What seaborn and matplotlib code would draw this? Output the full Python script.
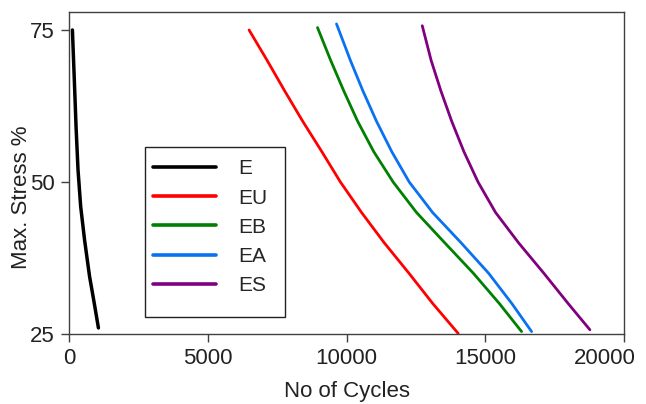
import matplotlib
matplotlib.use("Agg")
import matplotlib.pyplot as plt
import matplotlib.transforms as mtransforms
from matplotlib.patches import Rectangle
import seaborn as sns
import pandas as pd

# ---- data ----
series_names = ["E", "EU", "EB", "EA", "ES"]

E_cycles = [123, 190, 255, 325, 420, 560, 740, 920, 1060]
E_stress = [75.0, 67.0, 59.0, 52.0, 46.0, 40.5, 34.5, 29.8, 26.0]

EU_cycles = [6489, 7140, 7770, 8420, 9110, 9780, 10540, 11360, 12250, 13110, 14024]
EU_stress = [75.0, 70.0, 65.0, 60.0, 55.0, 50.0, 45.0, 40.0, 35.0, 30.0, 25.1]

EB_cycles = [8955, 9430, 9900, 10400, 10980, 11680, 12520, 13540, 14570, 15510, 16309]
EB_stress = [75.4, 70.0, 65.0, 60.0, 55.0, 50.0, 45.0, 40.0, 35.0, 30.0, 25.4]

EA_cycles = [9640, 10140, 10590, 11080, 11630, 12260, 13100, 14130, 15120, 15960, 16670]
EA_stress = [76.0, 70.0, 65.0, 60.0, 55.0, 50.0, 45.0, 40.0, 35.0, 30.0, 25.4]

ES_cycles = [12730, 13050, 13400, 13790, 14230, 14740, 15370, 16200, 17110, 17990, 18771]
ES_stress = [75.7, 70.0, 65.0, 60.0, 55.0, 50.0, 45.0, 40.0, 35.0, 30.0, 25.7]

x_ticks = [0, 5000, 10000, 15000, 20000]
y_ticks = [25, 50, 75]

colors = {"E": "#000000", "EU": "#ff0000", "EB": "#008000", "EA": "#0a72f0", "ES": "#800080"}
widths = {"E": 2.5, "EU": 2.0, "EB": 2.0, "EA": 2.0, "ES": 2.0}

data = {
    "E": (E_cycles, E_stress),
    "EU": (EU_cycles, EU_stress),
    "EB": (EB_cycles, EB_stress),
    "EA": (EA_cycles, EA_stress),
    "ES": (ES_cycles, ES_stress),
}

sns.set_theme(style="white")
plt.rcParams["font.family"] = ["Liberation Sans", "DejaVu Sans"]

W, H = 646, 404
AX_L, AX_R, AX_T, AX_B = 69, 624, 12, 334

fig = plt.figure(figsize=(W / 100, H / 100), dpi=100)
ax = fig.add_axes([AX_L / W, (H - AX_B) / H, (AX_R - AX_L) / W, (AX_B - AX_T) / H])

for name in series_names:
    cyc, st = data[name]
    df = pd.DataFrame({"cycles": cyc, "stress": st})
    sns.lineplot(data=df, x="cycles", y="stress", sort=False, estimator=None,
                 color=colors[name], linewidth=widths[name], label=name, ax=ax)

ax.set_xlim(0, 20000)
ax.set_ylim(25, 77.96)
ax.set_xticks(x_ticks)
ax.set_yticks(y_ticks)
ax.tick_params(axis="both", which="major", direction="out", length=6, width=1,
               color="#404040", labelsize=16, labelcolor="#222222", pad=4,
               bottom=True, left=True)
for sp in ax.spines.values():
    sp.set_visible(True)
    sp.set_color("#404040")
    sp.set_linewidth(1.0)

# last x tick label is pulled inwards in the reference
last_lab = ax.get_xticklabels()[-1]
last_lab.set_transform(last_lab.get_transform() +
                       mtransforms.ScaledTranslation(-19 / 100, 0, fig.dpi_scale_trans))

ax.set_xlabel("No of Cycles", fontsize=16, color="#222222", labelpad=9)
ax.set_ylabel("Max. Stress %", fontsize=16, color="#222222")
ax.yaxis.set_label_coords(-0.066, 0.425)


def px2ax(px, py):
    return ((px - AX_L) / (AX_R - AX_L), (AX_B - py) / (AX_B - AX_T))


# legend frame (drawn separately so it can have the reference's proportions)
x0, y0 = px2ax(145, 317)
x1, y1 = px2ax(285, 147)
ax.add_patch(Rectangle((x0, y0), x1 - x0, y1 - y0, transform=ax.transAxes,
                       facecolor="white", edgecolor="#222222", linewidth=1.0,
                       zorder=4))

leg = ax.legend(loc="upper left", bbox_to_anchor=px2ax(145, 151), fontsize=15,
                frameon=False, handlelength=3.0, handletextpad=1.1,
                labelspacing=0.49, borderpad=0.4, borderaxespad=0)
leg.set_zorder(5)
for line in leg.get_lines():
    line.set_linewidth(2.6)

fig.savefig("out.png", dpi=100)
